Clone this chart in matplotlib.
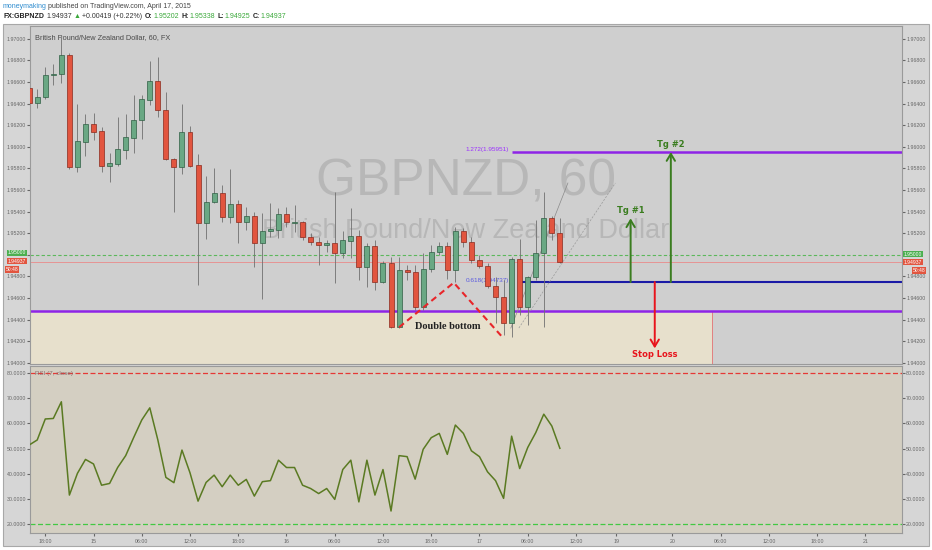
import numpy as np
import matplotlib.pyplot as plt
from matplotlib.patches import Rectangle

plt.rcParams['font.family'] = ['Liberation Sans', 'DejaVu Sans']

# hourly bars, x = hours after 14 Apr 18:00 (weekend gap removed)
bars = np.arange(-2, 65)
opens = [1.96541, 1.96402, 1.96457, 1.96661, 1.96670, 1.96849, 1.95815, 1.96046, 1.96210, 1.96148,
         1.95821, 1.95840, 1.95969, 1.96078, 1.96247, 1.96432, 1.96608, 1.96340, 1.95886, 1.95815,
         1.96139, 1.95831, 1.95291, 1.95485, 1.95569, 1.95352, 1.95469, 1.95306, 1.95361, 1.95111,
         1.95217, 1.95229, 1.95374, 1.95296, 1.95300, 1.95161, 1.95120, 1.95090, 1.95106, 1.95019,
         1.95130, 1.95173, 1.94883, 1.95081, 1.94750, 1.94920, 1.94328, 1.94858, 1.94843, 1.94520,
         1.94865, 1.95028, 1.95081, 1.94858, 1.95224, 1.95115, 1.94951, 1.94895, 1.94710, 1.94606,
         1.94370, 1.94963, 1.94519, 1.94791, 1.95013, 1.95337, 1.95202]
highs = [1.96562, 1.96531, 1.96741, 1.96766, 1.97016, 1.96870, 1.96395, 1.96303, 1.96312, 1.96180,
         1.95939, 1.96272, 1.96303, 1.96479, 1.96479, 1.96796, 1.96828, 1.96509, 1.95895, 1.96395,
         1.96192, 1.95932, 1.95729, 1.95800, 1.95645, 1.95791, 1.95506, 1.95444, 1.95398, 1.95383,
         1.95481, 1.95430, 1.95444, 1.95460, 1.95315, 1.95201, 1.95167, 1.95136, 1.95583, 1.95222,
         1.95430, 1.95229, 1.95106, 1.95136, 1.94944, 1.94981, 1.94981, 1.94905, 1.94905, 1.95016,
         1.95090, 1.95120, 1.95120, 1.95259, 1.95247, 1.95167, 1.94997, 1.94920, 1.94796, 1.94766,
         1.94981, 1.95143, 1.94803, 1.95321, 1.95583, 1.95358, 1.95338]
lows = [1.96377, 1.96361, 1.96439, 1.96571, 1.96587, 1.95791, 1.95769, 1.95914, 1.96062, 1.95769,
        1.95676, 1.95821, 1.95886, 1.95939, 1.96069, 1.96386, 1.96278, 1.95877, 1.95398, 1.95747,
        1.95809, 1.94719, 1.95143, 1.95476, 1.95306, 1.95291, 1.95106, 1.95229, 1.94889, 1.94587,
        1.95167, 1.95152, 1.95259, 1.95210, 1.95136, 1.95090, 1.94905, 1.95025, 1.94735, 1.94969,
        1.94967, 1.94766, 1.94704, 1.94673, 1.94738, 1.94321, 1.94319, 1.94766, 1.94488, 1.94488,
        1.94840, 1.94997, 1.94772, 1.94747, 1.95074, 1.94920, 1.94874, 1.94689, 1.94365, 1.94256,
        1.94241, 1.94442, 1.94349, 1.94765, 1.94333, 1.95136, 1.94925]
closes = [1.96402, 1.96457, 1.96664, 1.96673, 1.96849, 1.95815, 1.96053, 1.96210, 1.96139, 1.95821,
          1.95846, 1.95979, 1.96087, 1.96247, 1.96439, 1.96608, 1.96340, 1.95883, 1.95815, 1.96139,
          1.95821, 1.95291, 1.95485, 1.95569, 1.95352, 1.95469, 1.95306, 1.95361, 1.95111, 1.95219,
          1.95235, 1.95374, 1.95300, 1.95300, 1.95161, 1.95120, 1.95090, 1.95106, 1.95019, 1.95136,
          1.95173, 1.94883, 1.95081, 1.94750, 1.94920, 1.94328, 1.94858, 1.94840, 1.94520, 1.94865,
          1.95028, 1.95078, 1.94858, 1.95224, 1.95115, 1.94951, 1.94895, 1.94710, 1.94606, 1.94370,
          1.94963, 1.94519, 1.94791, 1.95013, 1.95337, 1.95204, 1.94937]
rsi = [51.4, 53.4, 61.7, 61.9, 68.5, 31.6, 40.2, 45.7, 43.9, 35.5, 36.2, 42.5, 47.2, 54.4, 61.3,
       66.1, 53.4, 38.6, 36.5, 49.4, 40.4, 29.2, 36.6, 39.5, 34.9, 39.5, 35.5, 37.8, 31.2, 36.9,
       37.3, 45.4, 42.5, 42.5, 35.5, 34.2, 32.2, 34.2, 29.9, 41.7, 45.4, 28.9, 45.4, 31.6, 41.7,
       25.3, 47.2, 46.8, 37.9, 49.7, 54.3, 56.0, 47.7, 59.3, 56.0, 49.1, 46.8, 40.8, 37.3, 30.3,
       54.9, 42.1, 50.4, 56.3, 63.6, 58.9, 50.1]

tick_pos = [0, 6, 12, 18, 24, 30, 36, 42, 48, 54, 60, 66, 71, 78, 84, 90, 96, 102]
tick_lab = ['18:00', '15', '06:00', '12:00', '18:00', '16', '06:00', '12:00', '18:00',
            '17', '06:00', '12:00', '19', '20', '06:00', '12:00', '18:00', '21']
price_ticks = np.arange(1.940, 1.97001, 0.002)
rsi_ticks = [20, 30, 40, 50, 60, 70, 80]

# levels and drawings
last_price = 1.94937
round_level = 1.95000
support = 1.94479
fib_618 = 1.94747
fib_1272 = 1.95951
tg1_price = 1.95337
sl_price = 1.94133
dbl_x = [44, 50.8, 56.8]
dbl_y = [1.94328, 1.94741, 1.94241]
fan_a_x, fan_a_y = [57.9, 65.0], [1.94321, 1.95664]
fan_b_x, fan_b_y = [58.9, 70.9], [1.94321, 1.95664]

W, H = 932, 550
fig = plt.figure(figsize=(W / 100, H / 100), dpi=100)


def fx(x):
    return x / W


def fy(y):
    return 1 - y / H


fig.patches.append(Rectangle((fx(3), fy(546)), 926 / W, 522 / H, transform=fig.transFigure,
                             fc='#d6d6d6', ec='#a8a8a8', lw=0.8, zorder=-10))

ax = fig.add_axes([fx(30), fy(364), 872 / W, 338 / H])
ax2 = fig.add_axes([fx(30), fy(533), 872 / W, 167 / H], sharex=ax)
xmin, xmax = -1.9, 106.55
ax.set_xlim(xmin, xmax)
ax.set_ylim(1.93988, 1.97118)
ax2.set_ylim(16.6, 82.65)
ax.set_facecolor('#cfcfcf')
ax2.set_facecolor('#d4cfc2')
for a in (ax, ax2):
    for s in a.spines.values():
        s.set_color('#9a9a9a')
        s.set_linewidth(0.8)

# watermark
ax.text(0.5, 0.5, 'GBPNZD, 60', transform=ax.transAxes, ha='center', va='baseline',
        fontsize=37, color='#b7b7b7', zorder=1)
ax.text(0.5, 0.374, 'British Pound/New Zealand Dollar', transform=ax.transAxes, ha='center',
        va='baseline', fontsize=19.5, color='#b7b7b7', zorder=1)
ax.text(0.006, 0.965, 'British Pound/New Zealand Dollar, 60, FX', transform=ax.transAxes,
        ha='left', va='center', fontsize=5.3, color='#4a4a4a')

# support zone
ax.add_patch(Rectangle((xmin, 1.9390), 82.9 - xmin, support - 1.9390, fc='#e7e0cc', ec='none', zorder=1))
ax.vlines(82.9, 1.9390, support, color='#e57373', lw=0.6, zorder=1)
ax.axhline(support, color='#8e24e6', lw=1.8, zorder=2)
ax.hlines(fib_1272, 58.0, xmax, color='#8e24e6', lw=1.8, zorder=2)
ax.text(57.7, fib_1272 + 0.00003, '1.272(1.95951)', ha='right', va='bottom', fontsize=4.6, color='#9b30ff')
ax.hlines(fib_618, 59.3, xmax, color='#1a1aa6', lw=1.5, zorder=2)
ax.text(52.3, fib_618 + 0.0001, '0.618(1.94737)', ha='left', va='center', fontsize=4.6,
        color='#5a5ae0', zorder=2)
ax.axhline(round_level, color='#5cb85c', lw=0.8, ls=(0, (3, 2)), zorder=2)
ax.axhline(last_price, color='#ea8a8a', lw=0.6, zorder=2)
ax.plot(fan_a_x, fan_a_y, color='#8a8a8a', lw=0.5, zorder=2)
ax.plot(fan_b_x, fan_b_y, color='#9a9a9a', lw=0.5, ls=(0, (3, 2)), zorder=2)

# candles
o = np.array(opens)
c = np.array(closes)
up = c >= o
body_col = np.where(up, '#6aa884', '#e2553f')
edge_col = np.where(up, '#2f5f44', '#8a2a1e')
ax.vlines(bars, lows, highs, color='#707070', lw=0.6, zorder=3)
ax.bar(bars, np.maximum(np.abs(c - o), 0.00002), bottom=np.minimum(o, c), width=0.62,
       color=body_col, edgecolor=edge_col, lw=0.5, zorder=4)

# double bottom
ax.plot(dbl_x, dbl_y, color='#e8262a', lw=1.5, ls=(0, (3, 2)), zorder=5)
ax.text(50.1, 1.94333, 'Double bottom', ha='center', va='center', fontsize=7.5,
        family='Liberation Serif', fontweight='bold', color='#222222', zorder=6)

# targets and stop
arr = '->,head_length=0.5,head_width=0.3'
ax.annotate('', xy=(72.8, tg1_price), xytext=(72.8, fib_618),
            arrowprops=dict(arrowstyle=arr, color='#3a7d1f', lw=1.4, shrinkA=0, shrinkB=0), zorder=6)
ax.annotate('', xy=(77.8, fib_1272), xytext=(77.8, fib_618),
            arrowprops=dict(arrowstyle=arr, color='#3a7d1f', lw=1.4, shrinkA=0, shrinkB=0), zorder=6)
ax.annotate('', xy=(75.8, sl_price), xytext=(75.8, fib_618),
            arrowprops=dict(arrowstyle=arr, color='#e8141c', lw=1.4, shrinkA=0, shrinkB=0), zorder=6)
ax.text(72.8, 1.95412, 'Tg #1', ha='center', va='center', fontsize=6, family='DejaVu Sans',
        fontweight='bold', color='#3a7d1f')
ax.text(77.8, 1.96025, 'Tg #2', ha='center', va='center', fontsize=6, family='DejaVu Sans',
        fontweight='bold', color='#3a7d1f')
ax.text(75.8, 1.94080, 'Stop Loss', ha='center', va='center', fontsize=6, family='DejaVu Sans',
        fontweight='bold', color='#e8141c')

# the 1.95000 tick label sits under the price tag, so the tag carries it
ax.set_yticks(price_ticks)
ax.set_yticklabels(['' if abs(v - round_level) < 1e-6 else f'{v:.5f}' for v in price_ticks])
ax.tick_params(axis='y', left=True, right=True, labelleft=True, labelright=True,
               labelsize=3.8, length=2, pad=1, colors='#666666')
ax.tick_params(axis='x', bottom=False, labelbottom=False)

# RSI panel
ax2.plot(bars, rsi, color='#5a7a22', lw=1.1, zorder=3)
ax2.axhline(80, color='#e53935', lw=0.9, ls=(0, (4, 2)))
ax2.axhline(20, color='#43c843', lw=0.9, ls=(0, (4, 2)))
ax2.text(0.006, 0.955, 'RSI (7, close)', transform=ax2.transAxes, ha='left', va='center',
         fontsize=4.5, color='#8a6a6a')
ax2.set_yticks(rsi_ticks)
ax2.set_yticklabels([f'{v:.4f}' for v in rsi_ticks])
ax2.tick_params(axis='y', left=True, right=True, labelleft=True, labelright=True,
                labelsize=3.8, length=2, pad=1, colors='#666666')
ax2.set_xticks(tick_pos)
ax2.set_xticklabels(tick_lab)
ax2.tick_params(axis='x', labelsize=3.8, length=2, pad=2, colors='#666666')

# price tags
tag = dict(fontsize=3.6, color='white', va='center', ha='left')
box = 'square,pad=0.12'
fig.text(fx(904), fy(254), f'{round_level:.5f}', bbox=dict(boxstyle=box, fc='#4caf50', ec='none'), **tag)
fig.text(fx(904), fy(262), f'{last_price:.5f}', bbox=dict(boxstyle=box, fc='#e2553f', ec='none'), **tag)
fig.text(fx(913), fy(270.5), '50:48', bbox=dict(boxstyle=box, fc='#e2553f', ec='none'), **tag)
fig.text(fx(8), fy(253), f'{round_level:.5f}', bbox=dict(boxstyle=box, fc='#4caf50', ec='none'), **tag)
fig.text(fx(8), fy(261), f'{last_price:.5f}', bbox=dict(boxstyle=box, fc='#e2553f', ec='none'), **tag)
fig.text(fx(6), fy(269.5), '50:48', bbox=dict(boxstyle=box, fc='#e2553f', ec='none'), **tag)

# header, segments placed one after another
renderer = fig.canvas.get_renderer()


def header_line(y, parts):
    x = fx(3)
    for txt, col, bold, gap in parts:
        t = fig.text(x, fy(y), txt, color=col, fontsize=5, va='center', ha='left',
                     fontweight='bold' if bold else 'normal',
                     family=['Liberation Sans', 'DejaVu Sans'])
        bb = t.get_window_extent(renderer)
        x = bb.x1 / W + gap / W


header_line(6.5, [('moneymaking', '#2e8ccf', False, 1.5),
                  ('published on TradingView.com, April 17, 2015', '#444444', False, 0)])
header_line(17, [('FX:GBPNZD', '#222222', True, 2.5), ('1.94937', '#333333', False, 2),
                 ('\u25b2', '#3aa83a', False, 1.5), ('+0.00419 (+0.22%)', '#333333', False, 2.5),
                 ('O:', '#222222', True, 0.5), ('1.95202', '#3aa83a', False, 2.5),
                 ('H:', '#222222', True, 0.5), ('1.95338', '#3aa83a', False, 2.5),
                 ('L:', '#222222', True, 0.5), ('1.94925', '#3aa83a', False, 2.5),
                 ('C:', '#222222', True, 0.5), ('1.94937', '#3aa83a', False, 0)])

fig.savefig('out.png', dpi=100)
